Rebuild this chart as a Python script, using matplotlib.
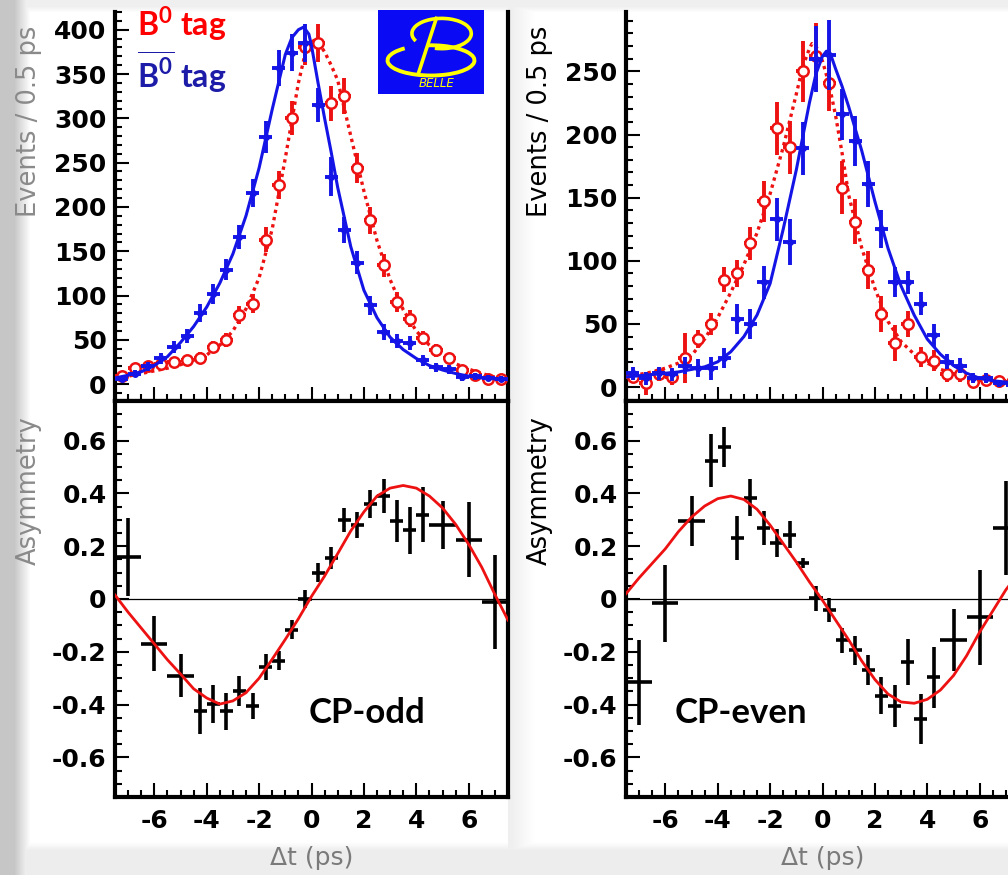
import numpy as np
import matplotlib.pyplot as plt
from matplotlib.ticker import MultipleLocator, FuncFormatter
from matplotlib.patches import Arc, Rectangle

plt.rcParams['font.family'] = 'DejaVu Sans'
plt.rcParams['font.weight'] = 'bold'
plt.rcParams['axes.unicode_minus'] = False
plt.rcParams['mathtext.fontset'] = 'custom'
plt.rcParams['mathtext.bf'] = 'Lato:bold'
plt.rcParams['mathtext.rm'] = 'Lato:bold'

# ---- data ----
# 0.5 ps bins for the yield plots
t_bins = [-7.25, -6.75, -6.25, -5.75, -5.25, -4.75, -4.25, -3.75, -3.25, -2.75,
          -2.25, -1.75, -1.25, -0.75, -0.25, 0.25, 0.75, 1.25, 1.75, 2.25,
          2.75, 3.25, 3.75, 4.25, 4.75, 5.25, 5.75, 6.25, 6.75, 7.25]

# CP-odd sample
odd_b0bar = [6, 12, 20, 29, 42, 54, 80, 102, 129, 166, 216, 279, 357, 374, 385,
             315, 234, 174, 137, 89, 59, 49, 46, 27, 19, 17, 8, 9, 7, 6]
odd_b0bar_err = [3, 4, 5, 6, 7, 8, 10, 11, 12, 14, 16, 18, 20, 21, 21,
                 19, 22, 15, 13, 11, 9, 8, 8, 6, 5, 5, 4, 4, 3, 3]
odd_b0 = [9, 18, 21, 23, 25, 27, 30, 42, 50, 78, 91, 163, 225, 300, 381,
          385, 317, 325, 244, 185, 134, 93, 74, 52, 38, 29, 16, 10, 6, 6]
odd_b0_err = [4, 5, 5, 5, 6, 6, 6, 7, 8, 10, 11, 14, 16, 19, 21,
              21, 20, 20, 17, 15, 13, 11, 10, 8, 7, 6, 5, 4, 3, 3]

# CP-even sample
even_b0bar = [11, 7, 11, 10, 17, 15, 15, 23, 54, 50, 83, 133, 115, 189, 260,
              263, 216, 195, 161, 125, 83, 83, 66, 41, 20, 17, 7, 7, 3, 2]
even_b0bar_err = [5, 5, 5, 5, 7, 7, 9, 8, 12, 12, 13, 17, 18, 21, 26,
                  28, 20, 20, 18, 15, 12, 9, 9, 9, 6, 6, 4, 4, 3, 3]
even_b0 = [8, 3, 10, 8, 23, 38, 50, 85, 90, 114, 147, 205, 190, 250, 262,
           241, 158, 131, 93, 58, 35, 50, 24, 21, 10, 10, 4, 6, 5, 4]
even_b0_err = [5, 9, 5, 6, 20, 7, 9, 10, 11, 13, 16, 21, 21, 24, 26,
               22, 21, 18, 15, 14, 14, 10, 8, 8, 6, 6, 4, 4, 4, 4]

# fit curves for the yields
odd_b0bar_fit_t = [-7.5, -7, -6.5, -6, -5.5, -5, -4.5, -4, -3.5, -3, -2.5, -2, -1.5,
                   -1, -0.75, -0.5, -0.3, -0.1, 0, 0.25, 0.5, 0.75, 1, 1.5, 2, 2.5,
                   3, 3.5, 4, 4.5, 5, 5.5, 6, 6.5, 7, 7.5]
odd_b0bar_fit = [7, 10, 14, 21, 31, 47, 65, 87, 114, 147, 190, 244, 310,
                 372, 391, 400, 403, 395, 382, 340, 300, 262, 222, 155, 106, 75,
                 53, 39, 29, 21, 16, 12, 9, 7, 6, 5]
odd_b0_fit_t = [-7.5, -7, -6.5, -6, -5.5, -5, -4.5, -4, -3.5, -3, -2.5, -2, -1.5,
                -1, -0.5, -0.25, 0, 0.1, 0.25, 0.5, 0.75, 1, 1.5, 2, 2.5, 3, 3.5,
                4, 4.5, 5, 5.5, 6, 6.5, 7, 7.5]
odd_b0_fit = [7, 9, 12, 15, 18, 22, 27, 33, 44, 60, 85, 120, 175,
              255, 340, 372, 386, 388, 386, 375, 360, 343, 280, 218, 162, 118, 84,
              60, 44, 32, 23, 17, 12, 8, 6]
even_b0bar_fit_t = [-7.5, -7, -6.5, -6, -5.5, -5, -4.5, -4, -3.5, -3, -2.5, -2, -1.5,
                    -1, -0.5, -0.25, 0, 0.15, 0.3, 0.5, 0.75, 1, 1.5, 2, 2.5, 3,
                    3.5, 4, 4.5, 5, 5.5, 6, 6.5, 7, 7.5]
even_b0bar_fit = [8, 9, 10, 11, 12, 14, 16, 20, 28, 40, 57, 82, 125,
                  172, 225, 248, 262, 266, 264, 252, 238, 222, 187, 147, 110, 80,
                  57, 38, 26, 17, 11, 7, 5, 4, 3]
even_b0_fit_t = [-7.5, -7, -6.5, -6, -5.5, -5, -4.5, -4, -3.5, -3, -2.5, -2, -1.5,
                 -1, -0.75, -0.5, -0.4, -0.25, 0, 0.25, 0.5, 0.75, 1, 1.5, 2, 2.5,
                 3, 3.5, 4, 4.5, 5, 5.5, 6, 6.5, 7, 7.5]
even_b0_fit = [8, 10, 12, 15, 19, 25, 38, 55, 75, 97, 122, 153, 190,
               232, 254, 268, 272, 270, 258, 240, 215, 185, 152, 110, 78, 52,
               36, 26, 19, 14, 11, 8, 6, 5, 4, 4]

# asymmetry bins (wider at the tails)
asym_t = [-7, -6, -5, -4.25, -3.75, -3.25, -2.75, -2.25, -1.75, -1.25, -0.75, -0.25,
          0.25, 0.75, 1.25, 1.75, 2.25, 2.75, 3.25, 3.75, 4.25, 5, 6, 7]
asym_halfwidth = [0.5, 0.5, 0.5] + [0.25] * 18 + [0.5, 0.5, 0.5]

odd_asym = [0.158, -0.169, -0.29, -0.424, -0.398, -0.426, -0.347, -0.405, -0.258,
            -0.233, -0.116, 0.0, 0.10, 0.155, 0.30, 0.28, 0.36, 0.39, 0.295, 0.26,
            0.32, 0.28, 0.225, -0.01]
odd_asym_err = [0.148, 0.104, 0.08, 0.086, 0.073, 0.07, 0.057, 0.048, 0.048, 0.035,
                0.037, 0.035, 0.035, 0.042, 0.045, 0.048, 0.054, 0.064, 0.08, 0.09,
                0.105, 0.092, 0.143, 0.178]
even_asym = [-0.316, -0.017, 0.295, 0.524, 0.575, 0.232, 0.384, 0.27, 0.212, 0.244,
             0.136, 0.003, -0.042, -0.156, -0.195, -0.27, -0.366, -0.405, -0.239,
             -0.455, -0.296, -0.156, -0.07, 0.27]
even_asym_err = [0.162, 0.146, 0.095, 0.10, 0.076, 0.083, 0.07, 0.064, 0.054, 0.05,
                 0.02, 0.048, 0.045, 0.048, 0.054, 0.057, 0.07, 0.08, 0.086, 0.095,
                 0.115, 0.118, 0.18, 0.178]

asym_fit_t = [-7.5, -7, -6.5, -6, -5.5, -5, -4.5, -4, -3.5, -3, -2.5, -2, -1.5, -1,
              -0.5, 0, 0.5, 1, 1.5, 2, 2.5, 3, 3.5, 4, 4.5, 5, 5.5, 6, 6.5, 7, 7.5]
odd_asym_fit = [0.015, -0.05, -0.11, -0.17, -0.23, -0.284, -0.34, -0.375, -0.398,
                -0.386, -0.355, -0.3, -0.228, -0.153, -0.075, 0.01, 0.087, 0.172,
                0.258, 0.33, 0.39, 0.42, 0.43, 0.42, 0.39, 0.345, 0.283, 0.207,
                0.12, 0.017, -0.08]
even_asym_fit = [0.02, 0.08, 0.135, 0.19, 0.255, 0.31, 0.352, 0.38, 0.39, 0.377,
                 0.34, 0.28, 0.21, 0.14, 0.065, -0.005, -0.08, -0.155, -0.235,
                 -0.305, -0.36, -0.39, -0.395, -0.38, -0.345, -0.29, -0.215,
                 -0.125, -0.045, 0.035, 0.1]

BLUE = '#1414e6'
RED = '#ee1111'
W, H = 1008, 875

fig = plt.figure(figsize=(W / 100, H / 100), dpi=100)

# slide background: soft shadows around the pasted plots
bg = np.ones((H, W))
xs = np.arange(W)
ys = np.arange(H)
bg *= np.clip(0.78 + 0.22 * (xs - 14) / 16.0, 0.78, 1.0)[None, :]
gap = np.where(xs >= 508, np.clip(0.94 + 0.06 * (xs - 512) / 22.0, 0.94, 1.0), 1.0)
bg *= gap[None, :]
bg = np.minimum(bg, np.clip(0.93 + 0.07 * (850 - ys) / 8.0, 0.93, 1.0)[:, None])
bg = np.minimum(bg, np.clip(0.94 + 0.06 * (ys - 6) / 6.0, 0.94, 1.0)[:, None])
bg_ax = fig.add_axes([0, 0, 1, 1], zorder=-10)
bg_ax.imshow(np.dstack([bg, bg, bg]), aspect='auto', interpolation='bilinear')
bg_ax.axis('off')


def add_panel(left_px, top_px, bottom_px):
    return fig.add_axes([left_px / W, 1 - bottom_px / H, 393 / W, (bottom_px - top_px) / H])


def style(ax, ymaj, ymin):
    for s in ax.spines.values():
        s.set_linewidth(3)
    ax.set_xlim(-7.5, 7.5)
    ax.xaxis.set_major_locator(MultipleLocator(2))
    ax.xaxis.set_minor_locator(MultipleLocator(0.5))
    ax.yaxis.set_major_locator(MultipleLocator(ymaj))
    ax.yaxis.set_minor_locator(MultipleLocator(ymin))
    ax.tick_params(which='both', direction='in', top=False, right=False,
                   width=1.5, labelsize=18, pad=6)
    ax.tick_params(which='major', length=10)
    ax.tick_params(which='minor', length=5)
    ax.tick_params(axis='x', pad=9)


def yield_panel(ax, ylim, b0bar, b0bar_err, b0, b0_err,
                b0bar_fit_t, b0bar_fit, b0_fit_t, b0_fit, label_color):
    style(ax, 50, 10)
    ax.set_ylim(*ylim)
    ax.spines['top'].set_visible(False)
    ax.tick_params(axis='x', labelbottom=False)
    ax.plot(b0_fit_t, b0_fit, color=RED, lw=2.4, ls=(0, (1, 1.2)), zorder=2)
    ax.errorbar(t_bins, b0, xerr=0.25, yerr=b0_err, fmt='o', ms=7.5, mfc='white',
                mec=RED, mew=1.8, ecolor=RED, elinewidth=2.8, capsize=0, zorder=3)
    ax.errorbar(t_bins, b0bar, xerr=0.25, yerr=b0bar_err, fmt='o', ms=4, color=BLUE,
                ecolor=BLUE, elinewidth=2.8, capsize=0, zorder=4)
    ax.plot(b0bar_fit_t, b0bar_fit, color=BLUE, lw=2.2, zorder=5)
    ax.set_ylabel('Events / 0.5 ps', fontsize=18.5, color=label_color)
    ax.yaxis.set_label_coords(-0.186, 0.72)


def asym_panel(ax, vals, errs, fit, label_color, tag, tag_x):
    style(ax, 0.2, 0.05)
    ax.set_ylim(-0.75, 0.75)
    ax.yaxis.set_major_formatter(FuncFormatter(lambda v, _: '0' if abs(v) < 1e-9 else f'{v:.1f}'))
    ax.axhline(0, color='black', lw=0.9, zorder=1)
    ax.plot(asym_fit_t, fit, color=RED, lw=2.0, zorder=3)
    ax.errorbar(asym_t, vals, xerr=asym_halfwidth, yerr=errs, fmt='none',
                ecolor='black', elinewidth=2.6, capsize=0, zorder=2)
    ax.set_ylabel('Asymmetry', fontsize=18.5, color=label_color)
    ax.yaxis.set_label_coords(-0.186, 0.775)
    ax.set_xlabel('Δt (ps)', fontsize=18, color='#7a7a7a')
    ax.xaxis.set_label_coords(0.5, -0.125)
    ax.text(tag_x, -0.43, tag, fontsize=25, fontweight='bold', family='Lato',
            color='black', ha='center', va='center')


ax1 = add_panel(115, 12, 401)
ax2 = add_panel(115, 401, 797)
ax3 = add_panel(626, 12, 401)
ax4 = add_panel(626, 401, 797)

yield_panel(ax1, (-19, 420), odd_b0bar, odd_b0bar_err, odd_b0, odd_b0_err,
            odd_b0bar_fit_t, odd_b0bar_fit, odd_b0_fit_t, odd_b0_fit, '#8a8a8a')
yield_panel(ax3, (-11, 297), even_b0bar, even_b0bar_err, even_b0, even_b0_err,
            even_b0bar_fit_t, even_b0bar_fit, even_b0_fit_t, even_b0_fit, 'black')
asym_panel(ax2, odd_asym, odd_asym_err, odd_asym_fit, '#8a8a8a', 'CP-odd', 2.1)
asym_panel(ax4, even_asym, even_asym_err, even_asym_fit, 'black', 'CP-even', -3.1)

# flavour tag labels
fig.text(137 / W, 1 - 36 / H, r'B$^{\mathbf{0}}$ tag', fontsize=23, family='Lato',
         fontweight='bold', color='#ff0000', va='baseline')
fig.text(137 / W, 1 - 88 / H, r'$\overline{\mathbf{B}^{\mathbf{0}}}$ tag', fontsize=23,
         family='Lato', fontweight='bold', color='#1c1ca8', va='baseline')

# Belle logo
logo = fig.add_axes([378 / W, 1 - 94 / H, 106 / W, 84 / H])
logo.set_xlim(0, 1)
logo.set_ylim(0, 1)
logo.axis('off')
logo.add_patch(Rectangle((0, 0), 1, 1, color='#0a0af5'))
yel = '#ffff00'
logo.add_patch(Arc((0.6, 0.72), 0.56, 0.36, theta1=-110, theta2=200, color=yel, lw=2.6))
logo.add_patch(Arc((0.5, 0.40), 0.82, 0.36, theta1=150, theta2=460, color=yel, lw=2.8))
logo.plot([0.55, 0.38], [0.9, 0.24], color=yel, lw=2.6)
logo.text(0.55, 0.13, 'BELLE', fontsize=8.5, style='italic', fontweight='normal',
          color=yel, ha='center', va='center')

fig.savefig('out.png', dpi=100)
